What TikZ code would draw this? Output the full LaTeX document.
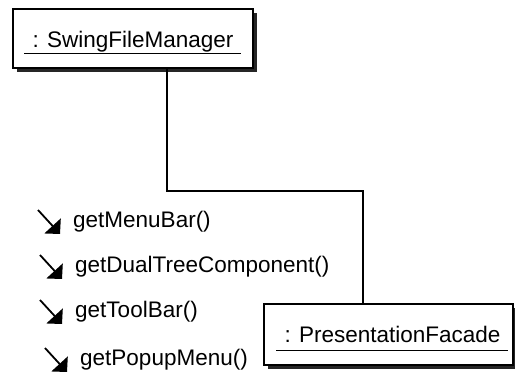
\documentclass[tikz,border=0pt]{standalone}
\usepackage{tikz}
\usetikzlibrary{shadows}
\usetikzlibrary{arrows.meta}
\usepackage{fontspec}
\setmainfont{Liberation Sans}

\begin{document}
\begin{tikzpicture}[x=1pt,y=-1pt,
    objbox/.style={draw=black, line width=1.3pt, fill=white, inner sep=0pt,
      drop shadow={shadow xshift=4pt, shadow yshift=-4pt, opacity=1, fill=black!85}},
    objname/.style={font=\fontsize{22.5}{26}\selectfont, inner sep=0pt, anchor=base},
    msgname/.style={font=\fontsize{22.5}{26}\selectfont, inner sep=0pt, anchor=base west},
    msgarrow/.style={line width=1.8pt, -{Triangle[length=11pt,width=22pt]}},
    uline/.style={line width=1.3pt},
    link/.style={line width=1.3pt}]
%% the page is exactly as large as the picture
\useasboundingbox (0,0) rectangle (515,376);

%% the two objects, each with its underlined name
\node[objbox, minimum width=240pt, minimum height=59pt] (sfm) at (133,38.5) {};
\node[objname] (sfmname) at (133,47) {: SwingFileManager};
\draw[uline] ([xshift=-8pt,yshift=-6.5pt]sfmname.base west) -- ([xshift=7pt,yshift=-6.5pt]sfmname.base east);

\node[objbox, minimum width=249pt, minimum height=61pt] (pf) at (388.5,334.5) {};
\node[objname] (pfname) at (392.5,342) {: PresentationFacade};
\draw[uline] ([xshift=-8pt,yshift=-8.5pt]pfname.base west) -- ([xshift=7pt,yshift=-8.5pt]pfname.base east);

%% the link between them
\coordinate (bendA) at (167,191);
\coordinate (bendB) at (363,191);
\draw[link] (bendA |- sfm.south) -- (bendA) -- (bendB) -- (bendB |- pf.north);

%% messages sent along the link
\node[msgname] (menubar) at (73,227) {getMenuBar()};
\node[msgname] (dualtree) at (75,272) {getDualTreeComponent()};
\node[msgname] (toolbar) at (75,317) {getToolBar()};
\node[msgname] (popup) at (80,365) {getPopupMenu()};
\foreach \m in {menubar,dualtree,toolbar,popup}
  \draw[msgarrow] ([xshift=-35pt,yshift=17pt]\m.base west) -- ([xshift=-13pt,yshift=-7pt]\m.base west);
\end{tikzpicture}
\end{document}
